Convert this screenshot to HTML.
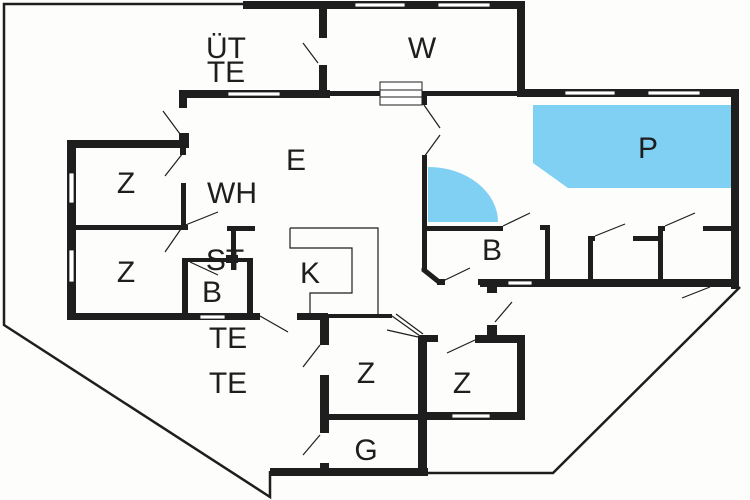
<!DOCTYPE html>
<html><head><meta charset="utf-8"><style>
html,body{margin:0;padding:0;background:#fff}
svg{display:block}
text{font-family:"Liberation Sans",sans-serif;font-size:30px;fill:#1e1e1e;text-anchor:middle}
</style></head><body>
<svg width="750" height="500" viewBox="0 0 750 500" xmlns="http://www.w3.org/2000/svg">
<rect width="750" height="500" fill="#fdfdfb"/>
<!-- pool -->
<polygon points="533,105 731,105 731,188 568,188 533,163" fill="#80d0f4"/>
<path d="M428,222 L428,167 A70,55 0 0 1 498,222 Z" fill="#80d0f4"/>
<!-- thin outline -->
<g stroke="#1e1e1e" stroke-width="2.5" fill="none">
<polyline points="243,4 4,4 4,325 270,497 270,471"/>
<polyline points="428,473 553,473 709,318 740,287"/>
</g>
<g fill="#1e1e1e">
<!-- top walls -->
<rect x="243" y="1" width="282" height="8"/>
<rect x="319" y="1" width="8" height="37"/>
<rect x="319" y="65" width="8" height="31"/>
<rect x="517" y="1" width="8" height="96"/>
<!-- y=92 wall -->
<rect x="179" y="90" width="151" height="8"/>
<rect x="330" y="91" width="190" height="5"/>
<rect x="517" y="89" width="222" height="8"/>
<rect x="731" y="89" width="8" height="200"/>
<!-- left pieces -->
<rect x="179" y="90" width="8" height="18"/>
<rect x="179" y="133" width="10" height="13"/>
<rect x="180" y="145" width="6" height="10"/>
<rect x="67" y="140" width="122" height="8"/>
<rect x="67" y="140" width="9" height="180"/>
<rect x="72" y="225" width="116" height="5"/>
<rect x="181" y="183" width="5" height="45"/>
<!-- ST -->
<rect x="227" y="226" width="28" height="5"/>
<rect x="231" y="226" width="5" height="44"/>
<rect x="226" y="255" width="12" height="8"/>
<!-- small B -->
<rect x="182" y="258" width="70" height="4"/>
<rect x="182" y="258" width="6" height="60"/>
<rect x="247" y="258" width="6" height="60"/>
<rect x="67" y="313" width="193" height="7"/>
<rect x="297" y="313" width="31" height="7"/>
<rect x="328" y="314" width="64" height="4"/>
<!-- middle Z -->
<rect x="320" y="316" width="9" height="29"/>
<rect x="320" y="375" width="9" height="58"/>
<rect x="320" y="463" width="9" height="10"/>
<rect x="270" y="468" width="158" height="8"/>
<rect x="328" y="414" width="95" height="6"/>
<rect x="418" y="336" width="9" height="140"/>
<rect x="420" y="335" width="18" height="7"/>
<rect x="475" y="335" width="50" height="8"/>
<rect x="517" y="335" width="8" height="85"/>
<rect x="420" y="412" width="105" height="8"/>
<!-- x=492 -->
<rect x="487" y="280" width="10" height="13"/>
<rect x="487" y="325" width="10" height="15"/>
<rect x="480" y="279" width="255" height="8"/>
<!-- right B and closets -->
<rect x="422" y="92" width="5" height="13"/>
<rect x="422" y="155" width="5" height="115"/>
<rect x="422" y="226" width="81" height="5"/>
<rect x="545" y="225" width="5" height="60"/>
<rect x="540" y="225" width="10" height="5"/>
<rect x="588" y="236" width="5" height="48"/>
<rect x="588" y="236" width="7" height="5"/>
<rect x="633" y="236" width="28" height="5"/>
<rect x="658" y="226" width="5" height="58"/>
<rect x="658" y="226" width="7" height="5"/>
<rect x="703" y="226" width="32" height="5"/>
<rect x="437" y="279" width="8" height="6"/>
<rect x="478" y="279" width="10" height="6"/>
</g>
<!-- windows -->
<g fill="#fff" stroke="#1e1e1e" stroke-width="0.8">
<rect x="355" y="3" width="50" height="4"/>
<rect x="438" y="3" width="52" height="4"/>
<rect x="228" y="92" width="52" height="4"/>
<rect x="565" y="91" width="50" height="4"/>
<rect x="648" y="91" width="52" height="4"/>
<rect x="69" y="173" width="5" height="30"/>
<rect x="69" y="250" width="5" height="32"/>
<rect x="200" y="315" width="25" height="4"/>
<rect x="508" y="281" width="24" height="4"/>
<rect x="452" y="414" width="38" height="4"/>
</g>
<!-- chamfer -->
<polyline points="424,268 424,270 439,282 445,282" stroke="#1e1e1e" stroke-width="5" fill="none"/>
<!-- vent -->
<g stroke="#1e1e1e" stroke-width="1" fill="#fff">
<rect x="380" y="82" width="42" height="23"/>
<line x1="380" y1="90" x2="422" y2="90"/>
<line x1="380" y1="97" x2="422" y2="97"/>
</g>
<!-- counters -->
<g stroke="#1e1e1e" stroke-width="1.2" fill="none">
<polyline points="290,228 378,228 378,316"/>
<polyline points="290,228 290,248 352,248 352,293 310,293 310,316"/>
<line x1="392" y1="316" x2="420" y2="336"/>
<line x1="396" y1="314" x2="423" y2="334"/>
</g>
<!-- door swings -->
<g stroke="#1e1e1e" stroke-width="1.2">
<line x1="303" y1="43" x2="318" y2="63"/>
<line x1="163" y1="111" x2="180" y2="134"/>
<line x1="165" y1="176" x2="183" y2="153"/>
<line x1="183" y1="226" x2="218" y2="212"/>
<line x1="165" y1="252" x2="183" y2="226"/>
<line x1="190" y1="262" x2="218" y2="275"/>
<line x1="260" y1="316" x2="288" y2="332"/>
<line x1="303" y1="367" x2="320" y2="345"/>
<line x1="303" y1="455" x2="320" y2="435"/>
<line x1="387" y1="330" x2="418" y2="337"/>
<line x1="447" y1="353" x2="475" y2="340"/>
<line x1="495" y1="322" x2="512" y2="302"/>
<line x1="682" y1="298" x2="710" y2="287"/>
<line x1="443" y1="281" x2="470" y2="268"/>
<line x1="503" y1="226" x2="530" y2="213"/>
<line x1="595" y1="236" x2="625" y2="224"/>
<line x1="665" y1="226" x2="695" y2="213"/>
<line x1="424" y1="105" x2="440" y2="128"/>
<line x1="440" y1="135" x2="424" y2="157"/>
</g>
<!-- labels -->
<text x="226" y="58">ÜT</text>
<text x="226" y="82">TE</text>
<text x="422" y="58">W</text>
<text x="296" y="170">E</text>
<text x="648" y="158">P</text>
<text x="126" y="193">Z</text>
<text x="232" y="203">WH</text>
<text x="126" y="282">Z</text>
<text x="225" y="270">ST</text>
<text x="212" y="302">B</text>
<text x="310" y="283">K</text>
<text x="492" y="260">B</text>
<text x="228" y="348">TE</text>
<text x="228" y="393">TE</text>
<text x="366" y="383">Z</text>
<text x="462" y="393">Z</text>
<text x="366" y="460">G</text>
</svg>
</body></html>
